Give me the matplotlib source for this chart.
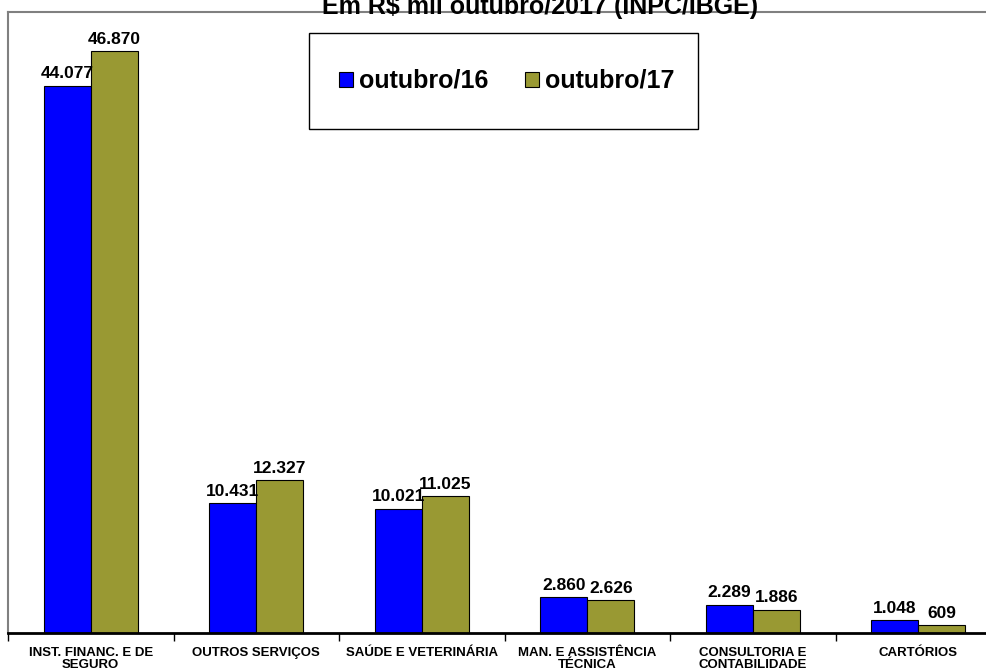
import matplotlib
matplotlib.use("Agg")
import matplotlib.pyplot as plt
from matplotlib.patches import Rectangle
import numpy as np

plt.rcParams["font.family"] = ["Liberation Sans", "DejaVu Sans"]
plt.rcParams["font.weight"] = "bold"

categories = ["INST. FINANC. E DE\nSEGURO", "OUTROS SERVIÇOS", "SAÚDE E VETERINÁRIA",
              "MAN. E ASSISTÊNCIA\nTÉCNICA", "CONSULTORIA E\nCONTABILIDADE", "CARTÓRIOS"]
series_names = ["outubro/16", "outubro/17"]
out16 = [44077, 10431, 10021, 2860, 2289, 1048]
out17 = [46870, 12327, 11025, 2626, 1886, 609]

colors = ["#0000FF", "#999933"]

def fmt(v):
  return f"{v:,}".replace(",", ".")

fig = plt.figure(figsize=(9.86, 6.72), dpi=100)
# plot area runs slightly past the right edge of the figure
ax = fig.add_axes([8/986, 39/672, 993/986, 621/672])

x = np.arange(len(categories))
bar_width = 0.285

for i, (vals, name) in enumerate(zip([out16, out17], series_names)):
  offset = (i - 0.5) * bar_width
  bars = ax.bar(x + offset, vals, width=bar_width, color=colors[i],
                edgecolor="black", linewidth=0.8, label=name)
  for rect, v in zip(bars, vals):
    ax.annotate(fmt(v), (rect.get_x() + rect.get_width()/2, v),
                xytext=(0, 3), textcoords="offset points",
                ha="center", va="bottom", fontsize=12.5, fontweight="bold")

ax.set_xlim(-0.5, len(categories) - 0.5)
ax.set_ylim(0, 50000)

ax.set_xticks(x)
ax.set_xticklabels(categories, fontsize=9.5, fontweight="bold", linespacing=1.05)
ax.set_xticks(np.arange(len(categories) + 1) - 0.5, minor=True)
ax.tick_params(axis="x", which="major", length=0, pad=10)
ax.tick_params(axis="x", which="minor", length=6, width=1, color="black")
ax.set_yticks([])

ax.spines["left"].set_color("#808080")
ax.spines["top"].set_color("#808080")
ax.spines["left"].set_linewidth(1.5)
ax.spines["top"].set_linewidth(1.5)
ax.spines["bottom"].set_linewidth(2)
ax.spines["bottom"].set_color("black")
ax.spines["right"].set_visible(False)

# legend box in the upper middle of the plot area, frame drawn separately
box = (301/993, 504/621, 389/993, 96/621)
ax.add_patch(Rectangle(box[:2], box[2], box[3], transform=ax.transAxes,
                       facecolor="white", edgecolor="black", linewidth=1, zorder=4))
leg = ax.legend(loc="center", bbox_to_anchor=(box[0] + 3/993, box[1], box[2], box[3]),
                ncol=2, fontsize=18, frameon=False,
                handlelength=0.56, handleheight=0.56,
                handletextpad=0.25, columnspacing=1.45, borderaxespad=0)
leg.set_zorder(5)
for t in leg.get_texts():
  t.set_fontweight("bold")

fig.text(540/986, 1 - 14/672, "Em R$ mil outubro/2017 (INPC/IBGE)", ha="center",
         va="baseline", fontsize=18, fontweight="bold")

fig.savefig("out.png", dpi=100)
